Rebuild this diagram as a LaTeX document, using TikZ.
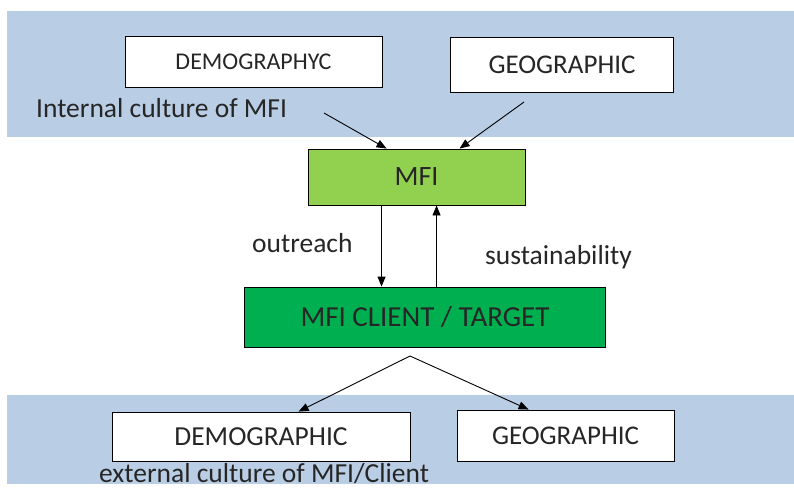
\documentclass[tikz,border=0pt]{standalone}
\usepackage{fontspec}
\setmainfont{Carlito}
\usetikzlibrary{arrows.meta,calc}
\definecolor{band}{HTML}{B9CDE4}
\definecolor{lightg}{HTML}{92D050}
\definecolor{darkg}{HTML}{00B050}
\definecolor{txt}{HTML}{262626}
\tikzset{
  box/.style={draw=black, line width=0.9pt, fill=white, inner sep=0pt, text=txt, font=\fontsize{27}{30}\selectfont},
  lbl/.style={inner sep=0pt, text=txt, font=\fontsize{27.5}{30}\selectfont, anchor=west},
  arr/.style={draw=black, line width=0.9pt, -{Triangle[length=10pt,width=8pt]}},
  bandfill/.style={fill=band, draw=none}
}
\begin{document}
\begin{tikzpicture}[x=1pt,y=-1pt]
\useasboundingbox (0,0) rectangle (794,493);
\fill[white] (0,0) rectangle (794,493);
\path[bandfill] (7,11) rectangle (794,137);
\path[bandfill] (7,395) rectangle (794,484);
% top boxes
\node[box, minimum width=257pt, minimum height=51pt, font=\fontsize{24}{28}\selectfont] (dem1) at (253.5,62) {DEMOGRAPHYC};
\node[box, minimum width=223pt, minimum height=55pt] (geo1) at (562,64.5) {GEOGRAPHIC};
\node[lbl] (int) at (36,108) {Internal culture of MFI};
% MFI
\node[box, fill=lightg, minimum width=217pt, minimum height=56pt, font=\fontsize{28}{30}\selectfont] (mfi) at (416.5,177) {MFI};
\node[box, fill=darkg, minimum width=361pt, minimum height=60pt, font=\fontsize{29}{30}\selectfont] (cli) at (425,317) {MFI CLIENT / TARGET};
\node[lbl] (out) at (252,243) {outreach};
\node[lbl] (sus) at (485,257) {sustainability};
% bottom boxes
\node[box, minimum width=298pt, minimum height=49pt, font=\fontsize{27.5}{30}\selectfont] (dem2) at (261,436.5) {DEMOGRAPHIC};
\node[box, minimum width=217pt, minimum height=51pt, font=\fontsize{27}{30}\selectfont] (geo2) at (565.5,435.5) {GEOGRAPHIC};
\node[lbl] (ext) at (99,474) {external culture of MFI/Client};
% connectors
\coordinate (s1) at (324,113);
\coordinate (s2) at (524,102);
\coordinate (sp) at (410,356);
\draw[arr] (s1) -- ($(mfi.north west)+(79,0)$);
\draw[arr] (s2) -- ($(mfi.north west)+(152,0)$);
\draw[arr] ($(mfi.south west)+(74,0)$) -- ($(mfi.south west |- cli.north)+(74,0)$);
\draw[arr] ($(mfi.south west |- cli.north)+(129,0)$) -- ($(mfi.south west)+(129,0)$);
\draw[arr] (sp) -- ($(dem2.north west)+(187,0)$);
\draw[arr] (sp) -- ($(geo2.north west)+(72,0)$);
\end{tikzpicture}
\end{document}
